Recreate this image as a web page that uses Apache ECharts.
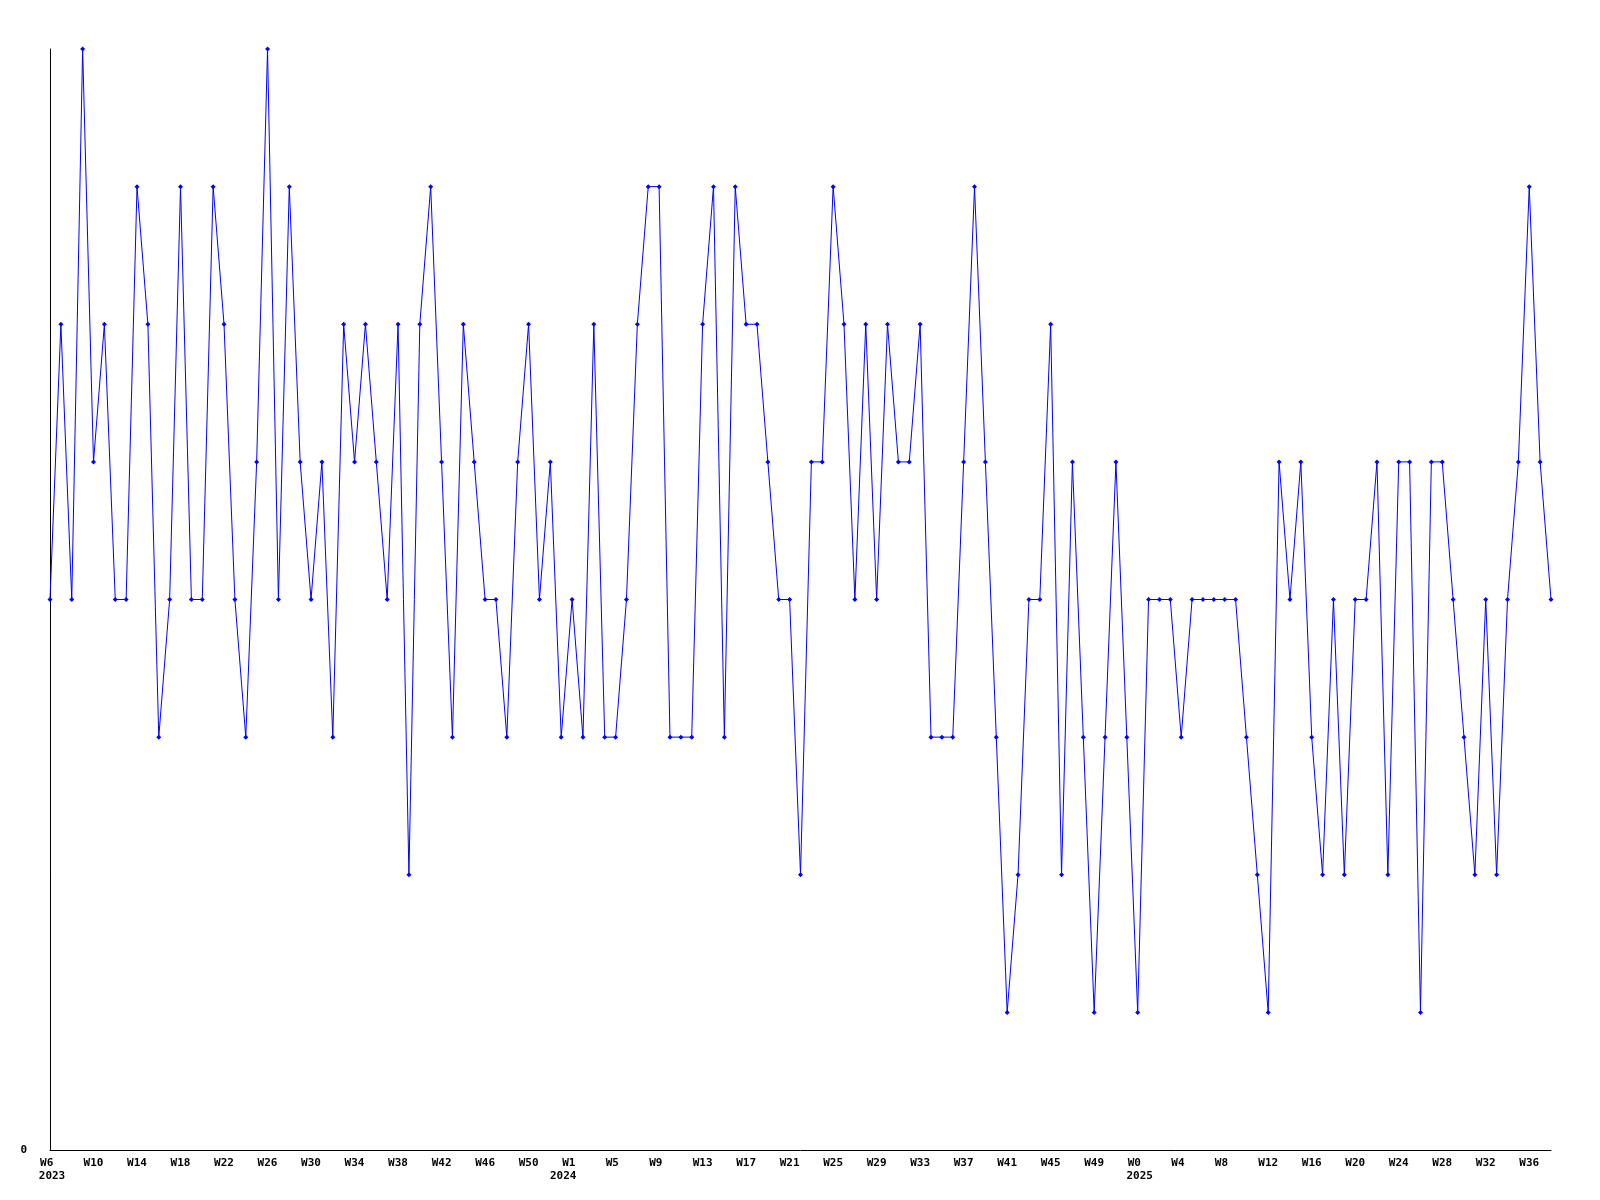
<!DOCTYPE html>
<html>
<head>
<meta charset="utf-8">
<script src="https://cdn.jsdelivr.net/npm/echarts@6/dist/echarts.min.js"></script>
<style>
html,body{margin:0;padding:0;background:#fff;}
#chart{width:1600px;height:1200px;}
</style>
</head>
<body>
<div id="chart"></div>
<script>
// Week numbers per year (category labels)
var weeks2023 = [6,7,8,9,10,11,12,13,14,15,16,17,18,19,20,21,22,23,24,25,26,27,28,29,30,31,32,33,34,35,36,37,38,39,40,41,42,43,44,45,46,47,48,49,50,51,52];
var weeks2024 = [0,1,2,3,4,5,6,7,8,9,10,11,12,13,14,15,16,17,18,19,20,21,22,23,24,25,26,27,28,29,30,31,32,33,34,35,36,37,38,39,40,41,42,43,44,45,46,47,48,49,50,51,52];
var weeks2025 = [0,1,2,3,4,5,6,7,8,9,10,11,12,13,14,15,16,17,18,19,20,21,22,23,24,25,26,27,28,29,30,31,32,33,34,35,36,37,38];
var years = ['2023','2024','2025'];
var yTickLabels = ['0'];

// Weekly values
var values2023 = [4,6,4,8,5,6,4,4,7,6,3,4,7,4,4,7,6,4,3,5,8,4,7,
                  5,4,5,3,6,5,6,5,4,6,2,6,7,5,3,6,5,4,4,3,5,6,4,5];
var values2024 = [3,
                  4,3,6,3,3,4,6,7,7,3,3,3,6,7,3,7,6,6,5,4,4,2,5,5,
                  7,6,4,6,4,6,5,5,6,3,3,3,5,7,5,3,1,2,4,4,6,2,5,
                  3,1,3,5,3];
var values2025 = [1,4,4,4,3,4,4,4,4,4,3,2,1,5,4,5,3,2,4,
                  2,4,4,5,2,5,5,1,5,5,4,3,2,4,2,4,5,7,5,4];

var categories = [], yearOf = [], values = [];
[[weeks2023, values2023, years[0]], [weeks2024, values2024, years[1]], [weeks2025, values2025, years[2]]].forEach(function (g) {
  g[0].forEach(function (w, i) {
    categories.push('W' + w);
    yearOf.push(i === 0 ? g[2] : '');
    values.push(g[1][i]);
  });
});

var font = '"DejaVu Sans Mono", "Liberation Mono", monospace';
var chart = echarts.init(document.getElementById('chart'), null, {renderer: 'canvas'});
chart.setOption({
  animation: false,
  backgroundColor: '#ffffff',
  grid: {left: 50, right: 49, top: 49, bottom: 50, containLabel: false},
  xAxis: [{
    type: 'category',
    data: categories,
    boundaryGap: false,
    axisLine: {show: true, lineStyle: {color: '#000', width: 1}},
    axisTick: {show: false},
    splitLine: {show: false},
    axisLabel: {
      interval: function (i) { return i % 4 === 0; },
      formatter: function (v) { return v.length < 3 ? v + ' ' : v; },
      margin: 8,
      color: '#000',
      fontFamily: font,
      fontWeight: 'bold',
      fontSize: 11
    }
  }, {
    type: 'category',
    data: categories,
    boundaryGap: false,
    position: 'bottom',
    axisLine: {show: false},
    axisTick: {show: false},
    splitLine: {show: false},
    axisLabel: {
      interval: function (i) { return yearOf[i] !== ''; },
      formatter: function (v, i) { return yearOf[i]; },
      margin: 21,
      color: '#000',
      fontFamily: font,
      fontWeight: 'bold',
      fontSize: 11,
      padding: [0, 0, 0, 4]
    }
  }],
  yAxis: {
    type: 'value',
    min: 0,
    max: 8,
    interval: 1,
    axisLine: {show: true, lineStyle: {color: '#000', width: 1}},
    axisTick: {show: false},
    splitLine: {show: false},
    axisLabel: {
      margin: 23,
      color: '#000',
      fontFamily: font,
      fontWeight: 'bold',
      fontSize: 11,
      formatter: function (v) { return v === 0 ? yTickLabels[0] : ''; }
    }
  },
  series: [{
    type: 'line',
    data: values,
    xAxisIndex: 0,
    symbol: 'diamond',
    symbolSize: 5,
    showSymbol: true,
    showAllSymbol: true,
    lineStyle: {color: '#0000ff', width: 1},
    itemStyle: {color: '#0000ff'},
    emphasis: {disabled: true}
  }]
});
</script>
</body>
</html>
